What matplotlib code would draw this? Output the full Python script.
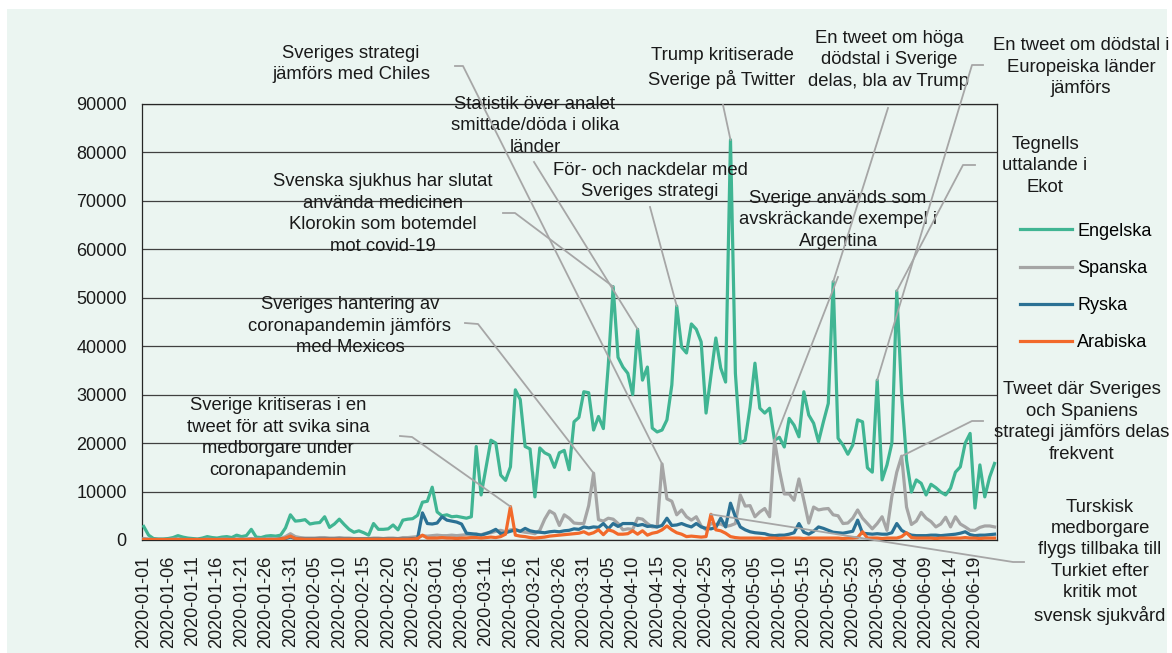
import matplotlib
matplotlib.use("Agg")
import matplotlib.pyplot as plt
from matplotlib.patches import Rectangle
from matplotlib.lines import Line2D
from datetime import date, timedelta

plt.rcParams['font.family'] = ['Liberation Sans', 'DejaVu Sans']

# daily values from 2020-01-01 to 2020-06-23
engelska = [
    2800, 1000, 300, 200, 200, 300, 500, 900, 600, 400,
    300, 200, 400, 700, 500, 400, 600, 700, 500, 1000,
    700, 900, 2200, 600, 500, 800, 900, 800, 1000, 2500,
    5200, 3900, 4000, 4200, 3300, 3500, 3600, 4800, 2600, 3300,
    4300, 3200, 2200, 1600, 1900, 1500, 1000, 3400, 2200, 2200,
    2300, 3100, 2100, 4100, 4300, 4400, 5100, 7800, 8000, 10900,
    5800, 5000, 5200, 4800, 4900, 4700, 4500, 4800, 19300, 9300,
    15000, 20600, 20000, 13400, 12300, 15100, 31000, 29000, 19300, 18800,
    8900, 19000, 18000, 17500, 15000, 18000, 18500, 14500, 24400, 25300,
    30600, 30400, 22700, 25500, 23000, 36000, 52300, 37700, 35700, 34400,
    30000, 43500, 33000, 35700, 23100, 22300, 22700, 24800, 32000, 48300,
    39800, 38600, 44600, 43500, 40900, 26200, 34000, 41700, 35500, 32600,
    82600, 34400, 20000, 20600, 27400, 36500, 27200, 26200, 27200, 20600,
    21200, 19200, 25100, 23700, 21300, 30600, 25800, 24100, 20300, 24400,
    28200, 53300, 21000, 19600, 17700, 19600, 24800, 24400, 14900, 14000,
    33000, 12400, 15500, 20000, 51400, 30000, 16500, 9900, 12400, 11700,
    9300, 11500, 10800, 9900, 9300, 10700, 14000, 15100, 20000, 22000,
    6600, 15500, 8900, 13000, 15800,
]
spanska = [
    300, 200, 100, 100, 100, 100, 200, 200, 100, 100,
    100, 100, 100, 200, 100, 100, 200, 200, 100, 200,
    200, 200, 300, 200, 200, 200, 300, 200, 300, 700,
    1300, 700, 500, 400, 400, 400, 500, 500, 400, 400,
    500, 400, 400, 300, 300, 300, 300, 400, 400, 300,
    400, 400, 300, 500, 500, 600, 700, 900, 800, 900,
    1000, 900, 900, 1000, 900, 1000, 1100, 1000, 1200, 1100,
    1400, 1500, 1800, 2000, 1700, 2100, 2200, 1800, 1600, 1500,
    1300, 2000, 4300, 6000, 5400, 3000, 5200, 4500, 3500, 3400,
    3400, 7100, 13800, 4200, 3900, 4500, 4300, 3400, 2100, 2300,
    2200, 4500, 4300, 3400, 2700, 2700, 15700, 8500, 8000, 5200,
    6200, 4800, 4100, 4800, 2900, 2100, 3400, 3200, 3300, 2800,
    3000, 3400, 9300, 7000, 7100, 4800, 5800, 6500, 4800, 20600,
    14400, 9500, 9500, 8200, 12600, 8200, 3500, 6800, 6200, 6400,
    6500, 5200, 5000, 3400, 3500, 4500, 6200, 4500, 3400, 2300,
    3400, 4800, 2000, 9000, 14000, 17300, 6800, 3200, 3900, 5700,
    4500, 3800, 2700, 3300, 4700, 2700, 4800, 3300, 2700, 2000,
    2000, 2600, 2900, 2900, 2700,
]
ryska = [
    100, 100, 100, 100, 100, 100, 100, 100, 100, 100,
    100, 100, 100, 100, 100, 100, 100, 100, 100, 100,
    100, 100, 100, 100, 100, 100, 100, 100, 200, 300,
    600, 300, 200, 200, 200, 200, 200, 200, 200, 200,
    200, 200, 200, 200, 200, 200, 200, 200, 200, 200,
    200, 200, 200, 200, 200, 300, 300, 5600, 3400, 3300,
    3500, 4800, 4100, 3900, 3700, 3300, 1400, 1300, 1200, 1000,
    1300, 1700, 2200, 1300, 1500, 1800, 2100, 1800, 2400, 1900,
    1700, 1600, 1500, 1700, 1800, 1700, 1900, 2000, 2300, 2200,
    2700, 2500, 2700, 2600, 3400, 2300, 3400, 2800, 3400, 3400,
    3400, 3000, 3200, 2800, 2900, 2700, 3000, 4500, 3000, 3100,
    3400, 3000, 2700, 3400, 2700, 2400, 2300, 2600, 4500, 2700,
    7600, 4800, 2700, 2100, 1700, 1500, 1400, 1300, 1000, 900,
    1000, 1000, 1200, 1500, 3400, 1600, 1200, 1800, 2700, 2400,
    2000, 1600, 1500, 1400, 1600, 1800, 4100, 1400, 1300, 1200,
    1300, 1200, 1200, 1500, 3400, 2000, 1400, 1000, 900, 900,
    900, 1000, 1000, 900, 1000, 1100, 1200, 1400, 1700, 1100,
    900, 1000, 1000, 1100, 1200,
]
arabiska = [
    100, 100, 100, 100, 100, 100, 100, 100, 100, 100,
    100, 100, 100, 100, 100, 100, 100, 100, 100, 100,
    100, 100, 100, 100, 100, 100, 100, 100, 200, 400,
    800, 300, 200, 150, 150, 150, 150, 150, 150, 150,
    150, 150, 150, 150, 150, 150, 150, 150, 150, 150,
    150, 150, 150, 150, 150, 200, 300, 1000, 400, 400,
    400, 500, 400, 400, 300, 400, 400, 500, 500, 400,
    500, 600, 500, 700, 1200, 6900, 1000, 800, 700, 500,
    400, 500, 600, 800, 900, 1000, 1100, 1200, 1300, 1400,
    1700, 1200, 1500, 2100, 1100, 2100, 1800, 1200, 1200, 1300,
    1900, 1200, 1900, 1000, 1400, 1600, 2100, 2900, 2100, 1500,
    1200, 700, 800, 700, 600, 700, 5300, 2100, 1900, 1400,
    700, 500, 400, 400, 400, 400, 400, 300, 400, 400,
    300, 400, 400, 400, 400, 300, 400, 400, 400, 400,
    400, 400, 400, 300, 400, 400, 500, 1700, 400, 400,
    400, 300, 400, 400, 400, 700, 1500, 500, 400, 400,
    400, 400, 300, 400, 400, 400, 400, 400, 500, 400,
    400, 300, 400, 400, 400,
]

series_names = ['Engelska', 'Spanska', 'Ryska', 'Arabiska']
series_colors = ['#40b593', '#a5a5a5', '#2b7194', '#f2692a']

start = date(2020, 1, 1)
dates = [(start + timedelta(days=i)).isoformat() for i in range(len(engelska))]

# annotation text, centre of text (px), leader start points (px), series, day index
annotations = [
    ("Sveriges strategi\njämförs med Chiles", (351, 64), [(455, 66), (463, 66)], 'Spanska', 106),
    ("Statistik över analet\nsmittade/döda i olika\nländer", (535, 126), [(534, 162)], 'Engelska', 101),
    ("Svenska sjukhus har slutat\nanvända medicinen\nKlorokin som botemdel\nmot covid-19", (383, 214),
     [(503, 213), (515, 213)], 'Engelska', 96),
    ("Sveriges hantering av\ncoronapandemin jämförs\nmed Mexicos", (350, 326), [(465, 323), (478, 324)], 'Spanska', 92),
    ("Sverige kritiseras i en\ntweet för att svika sina\nmedborgare under\ncoronapandemin", (278, 438),
     [(400, 436), (412, 437)], 'Arabiska', 75),
    ("För- och nackdelar med\nSveriges strategi", (650, 181), [(650, 207)], 'Engelska', 109),
    ("Trump kritiserade\nSverige på Twitter", (722, 68), [(723, 105)], 'Engelska', 120),
    ("En tweet om höga\ndödstal i Sverige\ndelas, bla av Trump", (889, 60), [(888, 108)], 'Engelska', 141),
    ("Sverige används som\navskräckande exempel i\nArgentina", (838, 220), [(838, 277)], 'Spanska', 129),
    ("En tweet om dödstal i\nEuropeiska länder\njämförs", (1081, 67), [(983, 65), (972, 65)], 'Engelska', 150),
    ("Tegnells\nuttalande i\nEkot", (1045, 166), [(975, 165), (963, 165)], 'Engelska', 154),
    ("Tweet där Sveriges\noch Spaniens\nstrategi jämförs delas\nfrekvent", (1082, 422),
     [(983, 421), (972, 421)], 'Spanska', 155),
    ("Turskisk\nmedborgare\nflygs tillbaka till\nTurkiet efter\nkritik mot\nsvensk sjukvård", (1100, 562),
     [(1024, 562), (1013, 562)], 'Arabiska', 116),
]

W, H = 1172, 653
fig = plt.figure(figsize=(W / 100, H / 100), dpi=100, facecolor='white')
fig.patches.append(Rectangle((7 / W, 0), (1167 - 7) / W, 1 - 9 / H, transform=fig.transFigure,
                             facecolor='#ebf5f1', edgecolor='none', zorder=-10))

ax = fig.add_axes([142 / W, 1 - 540 / H, (997 - 142) / W, (540 - 104) / H])
ax.set_facecolor('none')

data = dict(zip(series_names, [engelska, spanska, ryska, arabiska]))
x = list(range(len(engelska)))
for name, color in zip(series_names, series_colors):
    ax.plot(x, data[name], color=color, lw=2.3, label=name, solid_joinstyle='round', zorder=3)

ax.set_xlim(-0.35, 174.5)
ax.set_ylim(0, 90000)
ax.set_yticks(range(0, 90001, 10000))
ax.set_xticks(x[::5])
ax.set_xticklabels(dates[::5], rotation=90, fontsize=13, color='#1a1a1a')
ax.tick_params(axis='both', length=0, labelsize=13, labelcolor='#1a1a1a')
ax.tick_params(axis='x', pad=11)
ax.tick_params(axis='y', pad=11)
ax.grid(axis='y', color='#404040', lw=0.9, zorder=1)
for sp in ax.spines.values():
    sp.set_color('#262626')
    sp.set_linewidth(0.9)

ax.legend(loc='center left', bbox_to_anchor=(1020 / W, 1 - 287 / H), bbox_transform=fig.transFigure,
          frameon=False, fontsize=13, handlelength=2.9, handletextpad=0.28, labelspacing=1.12,
          borderpad=0, borderaxespad=0)

fig.canvas.draw()
inv = fig.transFigure.inverted()
for text, (tx, ty), pts, name, idx in annotations:
    fig.text(tx / W, 1 - ty / H, text, ha='center', va='center', fontsize=13.3,
             linespacing=1.34, color='#1a1a1a')
    tip = inv.transform(ax.transData.transform((idx, data[name][idx])))
    xs = [p[0] / W for p in pts] + [tip[0]]
    ys = [1 - p[1] / H for p in pts] + [tip[1]]
    fig.lines.append(Line2D(xs, ys, transform=fig.transFigure, color='#a6a6a6', lw=1.3, zorder=5))

fig.savefig('out.png', dpi=100)
